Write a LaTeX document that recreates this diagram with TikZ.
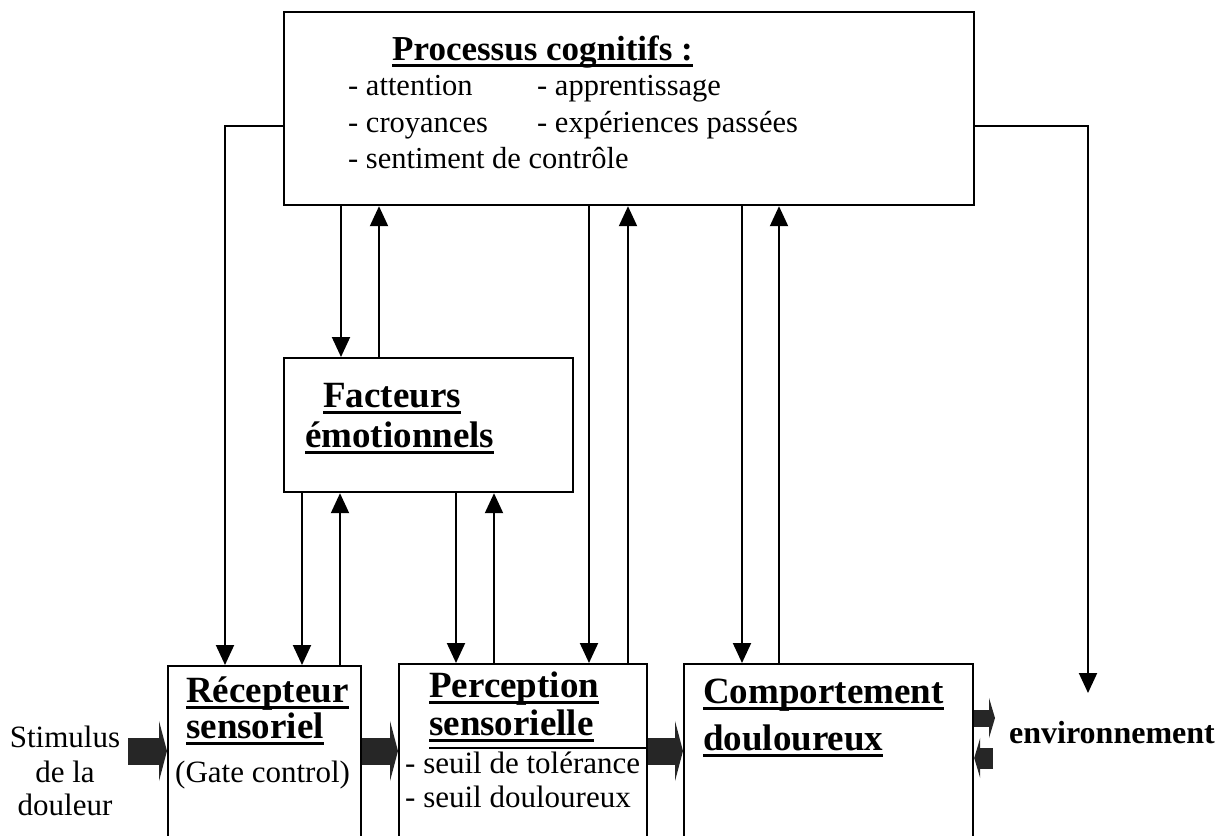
\documentclass[tikz,border=0pt]{standalone}
\usepackage{fontspec}
\setmainfont{Liberation Serif}
\usetikzlibrary{arrows.meta}
\newcommand{\ulbox}[1]{\setbox0=\hbox{#1}\rlap{\rule[-7pt]{\wd0}{2.8pt}}\box0}
\newcommand{\bigbf}{\fontsize{37}{40}\selectfont\bfseries}
\newcommand{\titlef}{\fontsize{35}{38}\selectfont\bfseries}
\newcommand{\listf}{\fontsize{30.5}{33}\selectfont}
\newcommand{\regf}{\fontsize{31}{34}\selectfont}
\newcommand{\envf}{\fontsize{32}{35}\selectfont\bfseries}
\begin{document}
\begin{tikzpicture}[x=1pt,y=-1pt,
  box/.style={draw, line width=2.2pt, rectangle, anchor=north west, inner sep=0pt},
  lbl/.style={anchor=base west, inner sep=0pt},
  ctr/.style={anchor=base, inner sep=0pt},
  arr/.style={draw, line width=2pt, -{Triangle[length=20pt,width=18pt]}},
  blk/.style={draw=black!85, line width=27pt, -{Triangle[length=8pt,width=60pt]}},
  blksa/.style={draw=black!85, line width=17pt, -{Triangle[length=6pt,width=40pt]}},
  blksb/.style={draw=black!85, line width=21pt, -{Triangle[length=6pt,width=40pt]}}]
\useasboundingbox (0,0) rectangle (1225,835);
% boxes
\node[box, minimum width=690pt, minimum height=193pt] (cog) at (283,11) {};
\node[box, minimum width=289pt, minimum height=134pt] (fac) at (283,357) {};
\node[box, minimum width=193pt, minimum height=185pt] (rec) at (167,665) {};
\node[box, minimum width=248pt, minimum height=187pt] (per) at (398,663) {};
\node[box, minimum width=289pt, minimum height=187pt] (com) at (683,663) {};
% texts: cognitive processes
\node[lbl, font=\titlef] (t0) at (392,60) {\ulbox{Processus cognitifs :}};
\node[lbl, font=\listf] (t1) at (348,95) {- attention};
\node[lbl, font=\listf] (t2) at (537,95) {- apprentissage};
\node[lbl, font=\listf] (t3) at (348,132) {- croyances};
\node[lbl, font=\listf] (t4) at (537,132) {- expériences passées};
\node[lbl, font=\listf] (t5) at (348,168) {- sentiment de contrôle};
% emotional factors
\node[lbl, font=\bigbf] (f1) at (323,407) {\ulbox{Facteurs}};
\node[lbl, font=\bigbf] (f2) at (305,447) {\ulbox{émotionnels}};
% receptor
\node[lbl, font=\bigbf] (r1) at (186,702) {\ulbox{Récepteur}};
\node[lbl, font=\bigbf] (r2) at (186,738) {\ulbox{sensoriel}};
\node[lbl, font=\regf] (r3) at (175,782) {(Gate control)};
% perception
\node[lbl, font=\bigbf] (p1) at (429,697) {\ulbox{Perception}};
\node[lbl, font=\bigbf] (p2) at (429,735) {\ulbox{sensorielle}};
\node[lbl, font=\regf] (p3) at (405,773) {- seuil de tolérance};
\node[lbl, font=\regf] (p4) at (405,807) {- seuil douloureux};
\coordinate (pl) at (0,748);
\draw[line width=2pt] (p2.west |- pl) -- (per.east |- pl);
% behaviour
\node[lbl, font=\bigbf] (c1) at (703,703) {\ulbox{Comportement}};
\node[lbl, font=\bigbf] (c2) at (703,750) {\ulbox{douloureux}};
% stimulus and environment
\node[ctr, font=\regf] (s1t) at (65,747) {Stimulus};
\node[ctr, font=\regf] (s2t) at (65,782) {de la};
\node[ctr, font=\regf] (s3t) at (65,815) {douleur};
\node[lbl, font=\envf] (env) at (1009,743) {environnement};
% block arrows
\coordinate (s1) at (128,751);
\draw[blk] (s1) -- (s1 -| rec.west);
\draw[blk] (rec.east |- s1) -- (per.west |- s1);
\draw[blk] (per.east |- s1) -- (com.west |- s1);
\coordinate (e1) at (995,718);
\coordinate (e2) at (993,758);
\draw[blksa] (com.east |- e1) -- (e1);
\draw[blksb] (e2) -- (com.east |- e2);
% thin arrows
\coordinate (L) at (225,126);
\draw[arr] (cog.west |- L) -| (L |- rec.north);
\coordinate (R) at (1088,126);
\coordinate (Rend) at (1088,693);
\draw[arr] (cog.east |- R) -| (Rend);
\foreach \x/\a/\b in {341/cog/fac, 302/fac/rec, 456/fac/per, 589/cog/per, 742/cog/com}{
  \coordinate (X) at (\x,0);
  \draw[arr] (\a.south -| X) -- (\b.north -| X);
}
\foreach \x/\a/\b in {379/fac/cog, 340/rec/fac, 494/per/fac, 628/per/cog, 779/com/cog}{
  \coordinate (X) at (\x,0);
  \draw[arr] (\a.north -| X) -- (\b.south -| X);
}
\end{tikzpicture}
\end{document}
